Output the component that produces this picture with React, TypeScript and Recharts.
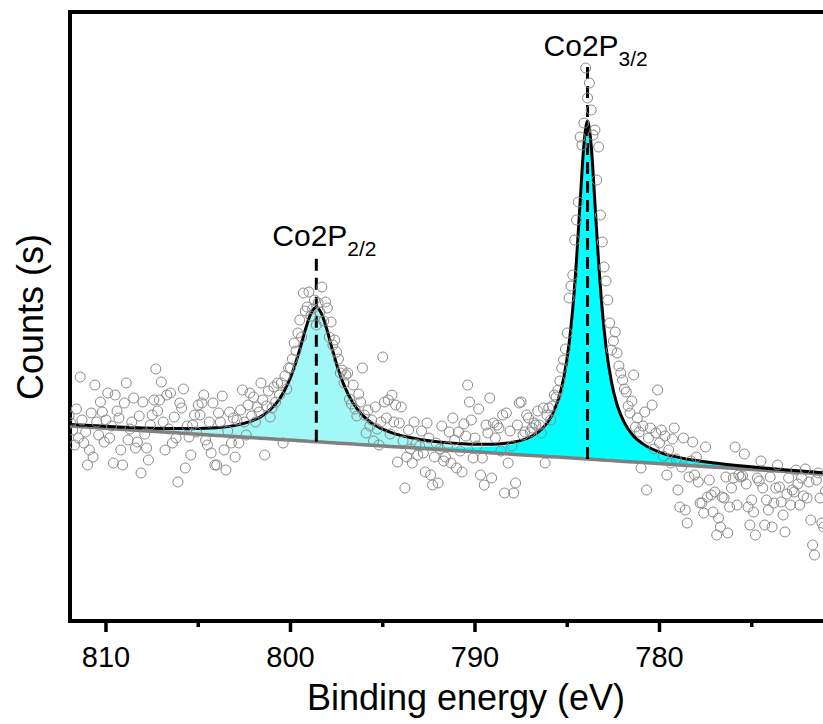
import React from 'react';
import {
  ComposedChart,
  XAxis,
  YAxis,
  Line,
  Area,
  Scatter,
  ReferenceLine,
  ReferenceArea,
} from 'recharts';

// ---- fitted curves (binding energy, eV) ----
const fitEnergy = [812, 810, 808, 806, 804, 803, 802, 801.6, 801.1, 800.6, 800.1, 799.8, 799.5, 799.2, 798.9, 798.6, 798.3, 798.0, 797.7, 797.4, 797.1, 796.6, 796.1, 795.6, 794.6, 793.6, 792.6, 791, 790, 789, 788, 787.4, 786.9, 786.4, 785.9, 785.5, 785.2, 784.9, 784.7, 784.5, 784.3, 784.1, 783.9, 783.7, 783.5, 783.3, 783.1, 782.9, 782.6, 782.3, 781.9, 781.4, 780.9, 779.9, 778.9, 776.9, 774, 771, 770];
const fitBaseline = [195.0, 192.7, 190.3, 188.0, 185.6, 184.4, 183.3, 182.8, 182.2, 181.6, 181.0, 180.7, 180.3, 180.0, 179.6, 179.3, 178.9, 178.6, 178.2, 177.8, 177.5, 176.9, 176.3, 175.7, 174.6, 173.4, 172.2, 170.3, 169.2, 168.0, 166.8, 166.1, 165.5, 164.9, 164.3, 163.9, 163.5, 163.2, 162.9, 162.7, 162.5, 162.2, 162.0, 161.8, 161.5, 161.3, 161.1, 160.8, 160.5, 160.1, 159.6, 159.0, 158.5, 157.3, 156.1, 153.8, 150.4, 146.8, 145.7];
// component heights above the baseline
const peak22 = [1.3, 1.7, 2.5, 4.0, 7.3, 10.7, 17.1, 21.1, 28.5, 39.7, 57.4, 72.2, 90.4, 110.2, 126.9, 133.7, 126.9, 110.2, 90.4, 72.2, 57.4, 39.7, 28.5, 21.1, 12.8, 8.5, 6.0, 3.8, 3.0, 2.4, 2.0, 1.8, 1.6, 1.5, 1.4, 1.3, 1.3, 1.2, 1.2, 1.1, 1.1, 1.1, 1.0, 1.0, 1.0, 0.9, 0.9, 0.9, 0.9, 0.8, 0.8, 0.7, 0.7, 0.6, 0.6, 0.5, 0.4, 0.3, 0.3];
const peak32 = [0.2, 0.3, 0.3, 0.4, 0.4, 0.5, 0.5, 0.5, 0.6, 0.6, 0.7, 0.7, 0.7, 0.7, 0.8, 0.8, 0.8, 0.9, 0.9, 0.9, 1.0, 1.1, 1.1, 1.2, 1.5, 1.8, 2.2, 3.3, 4.5, 6.4, 9.8, 13.3, 17.9, 25.1, 37.7, 55.4, 77.4, 112.9, 148.5, 196.6, 255.8, 312.2, 337.0, 312.2, 255.8, 196.6, 148.5, 112.9, 77.4, 55.4, 37.7, 25.1, 17.9, 10.3, 6.7, 3.4, 1.7, 1.0, 0.9];

// ---- measured spectrum: 812.0 eV down to 771.0 eV in 0.1 eV steps ----
const scanStart = 812.0;
const scanStep = 0.1;
const scanCounts = [
  205, 198, 191, 176, 212, 183, 244, 201, 178, 189,
  156, 171, 208, 164, 236, 199, 186, 219, 209, 179,
  201, 228, 183, 195, 158, 226, 210, 203, 171, 156,
  218, 238, 181, 192, 199, 223, 173, 179, 205, 148,
  219, 187, 173, 161, 196, 206, 221, 252, 210, 221,
  239, 199, 171, 226, 192, 228, 178, 204, 183, 139,
  218, 213, 232, 153, 195, 184, 166, 196, 206, 189,
  216, 206, 218, 226, 181, 176, 199, 168, 218, 156,
  156, 208, 199, 225, 171, 151, 190, 209, 178, 203,
  164, 201, 178, 211, 231, 199, 186, 216, 228, 205,
  224, 199, 214, 209, 238, 221, 166, 215, 230, 204,
  213, 234, 219, 238, 226, 238, 178, 245, 232, 253,
  253, 262, 278, 270, 288, 301, 284, 328, 310, 314,
  329, 305, 312, 321, 296, 318, 309, 334, 300, 319,
  313, 284, 299, 276, 281, 269, 262, 248, 251, 238,
  246, 248, 222, 217, 236, 212, 205, 227, 219, 253,
  206, 188, 211, 195, 201, 180, 214, 192, 176, 199,
  264, 219, 203, 221, 187, 226, 199, 216, 159, 198,
  214, 180, 133, 164, 191, 172, 158, 199, 177, 166,
  175, 190, 168, 149, 198, 183, 146, 136, 164, 178,
  138, 172, 195, 160, 164, 174, 189, 158, 203, 181,
  153, 189, 170, 149, 197, 185, 236, 219, 201, 163,
  183, 175, 212, 146, 163, 136, 196, 188, 223, 143,
  198, 183, 196, 193, 170, 206, 128, 208, 158, 190,
  175, 128, 138, 196, 218, 219, 186, 189, 206, 203,
  189, 193, 198, 196, 210, 196, 188, 213, 158, 206,
  213, 201, 215, 226, 224, 231, 240, 253, 261, 272,
  288, 323, 335, 346, 381, 401, 419, 484, 476, 498,
  553, 523, 538, 511, 486, 491, 441, 474, 406, 379,
  354, 340, 321, 298, 271, 280, 289, 268, 255, 248,
  241, 232, 229, 215, 208, 220, 246, 194, 203, 189,
  153, 195, 209, 131, 183, 193, 216, 172, 188, 231,
  178, 191, 165, 185, 146, 171, 158, 182, 193, 162,
  131, 114, 154, 183, 111, 98, 144, 160, 179, 146,
  164, 139, 118, 118, 108, 174, 124, 141, 126, 109,
  129, 86, 103, 94, 124, 123, 144, 88, 114, 133,
  143, 174, 116, 146, 144, 145, 167, 137, 114, 96,
  121, 109, 86, 143, 140, 160, 133, 96, 121, 111,
  144, 94, 118, 133, 156, 134, 119, 106, 89, 127,
  143, 116, 131, 129, 151, 137, 116, 143, 125, 152,
  123, 139, 101, 76, 66, 141, 148, 123, 98, 94, 130,
];

// ---- peak annotations ----
const peakNames = ['Co2P', 'Co2P'];
const peakSubs = ['2/2', '3/2'];
const peakCenters = [798.6, 783.9];
const peakLineTop = [368, 558];
const peakLineBottom = [179.3, 162.0];

const majorTicks = [810, 800, 790, 780];
const minorTicks = [805, 795, 785, 775];
const xDomain: [number, number] = [770, 811.95];
const yDomain: [number, number] = [0, 609];

const FONT = "'Liberation Sans', Arial, Helvetica, sans-serif";

const fitData = fitEnergy.map((e, i) => ({
  energy: e,
  base: fitBaseline[i],
  band22: [fitBaseline[i], fitBaseline[i] + peak22[i]],
  band32: [fitBaseline[i], fitBaseline[i] + peak32[i]],
  envelope: fitBaseline[i] + peak22[i] + peak32[i],
}));

const scanData = scanCounts.map((c, i) => ({
  energy: Math.round((scanStart - scanStep * i) * 10) / 10,
  counts: c,
}));

const Ring = (props: any) => {
  const { cx, cy } = props;
  if (cx == null || cy == null) return null;
  return <circle cx={cx} cy={cy} r={5} fill="none" stroke="#8a8a8a" strokeWidth={1} />;
};

const AxisTick = (props: any) => {
  const { x, y, payload } = props;
  const major = majorTicks.includes(payload.value);
  return (
    <g>
      <line x1={x} x2={x} y1={y} y2={y + (major ? 11 : 6)} stroke="#000" strokeWidth={3.5} />
      {major && (
        <text x={x} y={y + 46} textAnchor="middle" fontSize={29} fontFamily={FONT} fill="#000">
          {payload.value}
        </text>
      )}
    </g>
  );
};

const XTitle = (props: any) => {
  const vb = props.viewBox || { x: 70, y: 621 };
  return (
    <text x={vb.x + 396} y={vb.y + 89} textAnchor="middle" fontSize={36} fontFamily={FONT} fill="#000">
      Binding energy (eV)
    </text>
  );
};

const YTitle = (props: any) => {
  const vb = props.viewBox || { x: 0, y: 12, height: 609 };
  const cx = 43;
  const cy = vb.y + 305;
  return (
    <text
      x={cx}
      y={cy}
      transform={`rotate(-90 ${cx} ${cy})`}
      textAnchor="middle"
      fontSize={36}
      fontFamily={FONT}
      fill="#000"
    >
      Counts (s)
    </text>
  );
};

const makePeakLabel = (name: string, sub: string) => (props: any) => {
  const vb = props.viewBox || { x: 0, y: 0 };
  return (
    <text x={vb.x - 44} y={vb.y - 7} fontSize={30} fontFamily={FONT} fill="#000" textAnchor="start">
      {name}
      <tspan fontSize={21} dy={10}>
        {sub}
      </tspan>
    </text>
  );
};

export default function App() {
  return (
    <div
      style={{
        position: 'absolute',
        left: 0,
        top: 0,
        width: 823,
        height: 724,
        overflow: 'hidden',
        background: '#fff',
      }}
    >
      <ComposedChart
        width={850}
        height={724}
        margin={{ top: 12, right: 6, bottom: 0, left: 0 }}
      >
        <XAxis
          dataKey="energy"
          type="number"
          domain={xDomain}
          reversed
          allowDataOverflow
          ticks={[...majorTicks, ...minorTicks]}
          tick={<AxisTick />}
          tickLine={false}
          axisLine={false}
          tickSize={0}
          tickMargin={0}
          height={103}
          interval={0}
          label={<XTitle />}
        />
        <YAxis
          type="number"
          domain={yDomain}
          allowDataOverflow
          width={70}
          tick={false}
          tickLine={false}
          axisLine={false}
          label={<YTitle />}
        />
        <Area
          data={fitData}
          dataKey="band22"
          type="monotone"
          fill="#a2f7f7"
          fillOpacity={1}
          stroke="none"
          isAnimationActive={false}
        />
        <Area
          data={fitData}
          dataKey="band32"
          type="monotone"
          fill="#00ffff"
          fillOpacity={1}
          stroke="none"
          isAnimationActive={false}
        />
        <Scatter data={scanData} dataKey="counts" shape={<Ring />} isAnimationActive={false} />
        <Line
          data={fitData}
          dataKey="base"
          type="linear"
          stroke="#808080"
          strokeWidth={3.5}
          dot={false}
          activeDot={false}
          isAnimationActive={false}
        />
        <Line
          data={fitData}
          dataKey="envelope"
          type="monotone"
          stroke="#000"
          strokeWidth={3}
          dot={false}
          activeDot={false}
          isAnimationActive={false}
        />
        {peakCenters.map((c, i) => (
          <ReferenceLine
            key={i}
            segment={[
              { x: c, y: peakLineBottom[i] },
              { x: c, y: peakLineTop[i] },
            ]}
            stroke="#000"
            strokeWidth={3}
            strokeDasharray="12 7"
            label={makePeakLabel(peakNames[i], peakSubs[i])}
          />
        ))}
        <ReferenceArea
          x1={xDomain[0]}
          x2={xDomain[1]}
          y1={yDomain[0]}
          y2={yDomain[1]}
          fill="none"
          stroke="#000"
          strokeWidth={4}
          ifOverflow="visible"
        />
      </ComposedChart>
    </div>
  );
}
